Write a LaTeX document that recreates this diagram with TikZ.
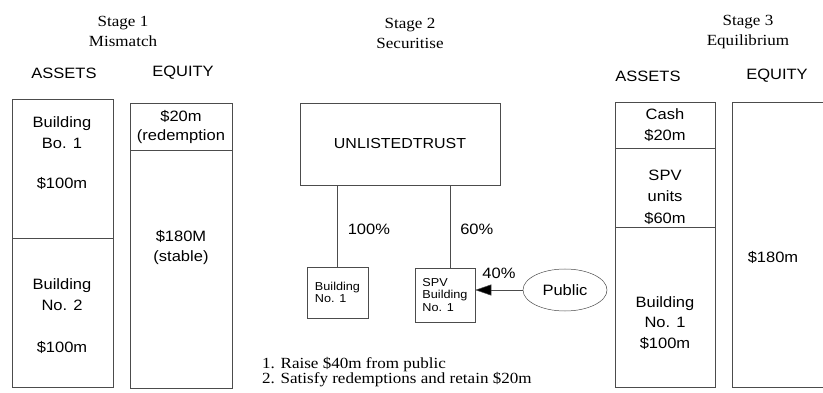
\documentclass[tikz,border=0pt]{standalone}
\usepackage{fontspec}
\setmainfont[FakeStretch=1.1]{Liberation Serif}
\setsansfont[FakeStretch=1.1]{Liberation Sans}
\usepackage{tikz}
\usetikzlibrary{positioning, shapes.geometric, arrows.meta}
\tikzset{
	frame/.style={draw=black!70, line width=0.5pt},
	stagetitle/.style={font=\fontsize{15.5}{20}\selectfont, align=center},
	colhead/.style={font=\sffamily\fontsize{15}{18}\selectfont},
	celltext/.style={font=\sffamily\fontsize{15}{21}\selectfont, align=center},
	pct/.style={font=\sffamily\fontsize{15}{18}\selectfont, inner sep=2pt},
	smallbox/.style={frame, font=\sffamily\fontsize{11.5}{12.5}\selectfont, inner sep=0pt, align=left},
	steptext/.style={font=\fontsize{15.5}{15}\selectfont, inner sep=0pt, anchor=base west},
}

\begin{document}
\begin{tikzpicture}[x=1pt, y=-1pt]
\useasboundingbox (0,0) rectangle (823,393);

% stage 1
\node[stagetitle] (title1) at (123,31) {Stage 1\\Mismatch};
\node[colhead] (assets1) at (64,73) {ASSETS};
\node[colhead] (equity1) at (183,73) {EQUITY};

\draw[frame] (12,99) rectangle (113,387);
\draw[frame] (12,238) -- (113,238);
\draw[frame] (130,103) rectangle (232,388);
\draw[frame] (130,150) -- (232,150);

\node[celltext] (bldgA) at (62,133) {Building\\Bo. 1};
\node[celltext] (valA) at (62,183) {\$100m};
\node[celltext] (bldgB) at (62,295) {Building\\No. 2};
\node[celltext] (valB) at (62,347) {\$100m};
\node[celltext, font=\sffamily\fontsize{15}{19}\selectfont] (redeem) at (181,127) {\$20m\\(redemption};
\node[celltext, font=\sffamily\fontsize{15}{20}\selectfont] (stable) at (181,248) {\$180M\\(stable)};

% stage 2
\node[stagetitle] (title2) at (410,33) {Stage 2\\Securitise};

\node[frame, minimum width=200pt, minimum height=82pt, font=\sffamily\fontsize{14.5}{18}\selectfont] (trust) at (400,144) {UNLISTEDTRUST};
\node[smallbox, minimum width=61pt, minimum height=51pt] (bldg) at (337.5,292.5) {Building\\No. 1};
\node[smallbox, minimum width=60pt, minimum height=54pt] (spv) at (445,295) {SPV\\Building\\No. 1};
\node[ellipse, frame, minimum width=84pt, minimum height=42pt, inner sep=0pt, font=\sffamily\fontsize{15}{18}\selectfont] (public) at (565,290) {Public};
\coordinate (spvjoin) at ([xshift=5pt]spv.north);

\draw[frame] (trust.south -| bldg.north) -- node[pct, right, xshift=8pt, yshift=-3pt] {100\%} (bldg.north);
\draw[frame] (trust.south -| spvjoin) -- node[pct, right, xshift=8pt, yshift=-3pt] {60\%} (spvjoin);
\draw[frame, -{Triangle[length=16pt, width=11pt, fill=black]}] (public.west) -- (public.west -| spv.east) node[pct, midway, above=9pt] {40\%};

\node[steptext] (step1) at (262,368) {1. Raise \$40m from public};
\node[steptext] (step2) at (262,383) {2. Satisfy redemptions and retain \$20m};

% stage 3
\node[stagetitle] (title3) at (748,32) {Stage 3\\Equilibrium};
\node[colhead] (assets3) at (648,76) {ASSETS};
\node[colhead] (equity3) at (777,76) {EQUITY};

\draw[frame] (615,102) rectangle (715,387);
\draw[frame] (615,148) -- (715,148);
\draw[frame] (615,227) -- (715,227);
\draw[frame] (826,102) -- (732,102) -- (732,387) -- (826,387);

\node[celltext] (cash) at (665,125.5) {Cash\\\$20m};
\node[celltext, font=\sffamily\fontsize{15}{21.5}\selectfont] (units) at (665,197) {SPV\\units\\\$60m};
\node[celltext, font=\sffamily\fontsize{15}{20.5}\selectfont] (bldg3) at (665,323) {Building\\No. 1\\\$100m};
\node[celltext] (equityval) at (773,257) {\$180m};
\end{tikzpicture}
\end{document}
